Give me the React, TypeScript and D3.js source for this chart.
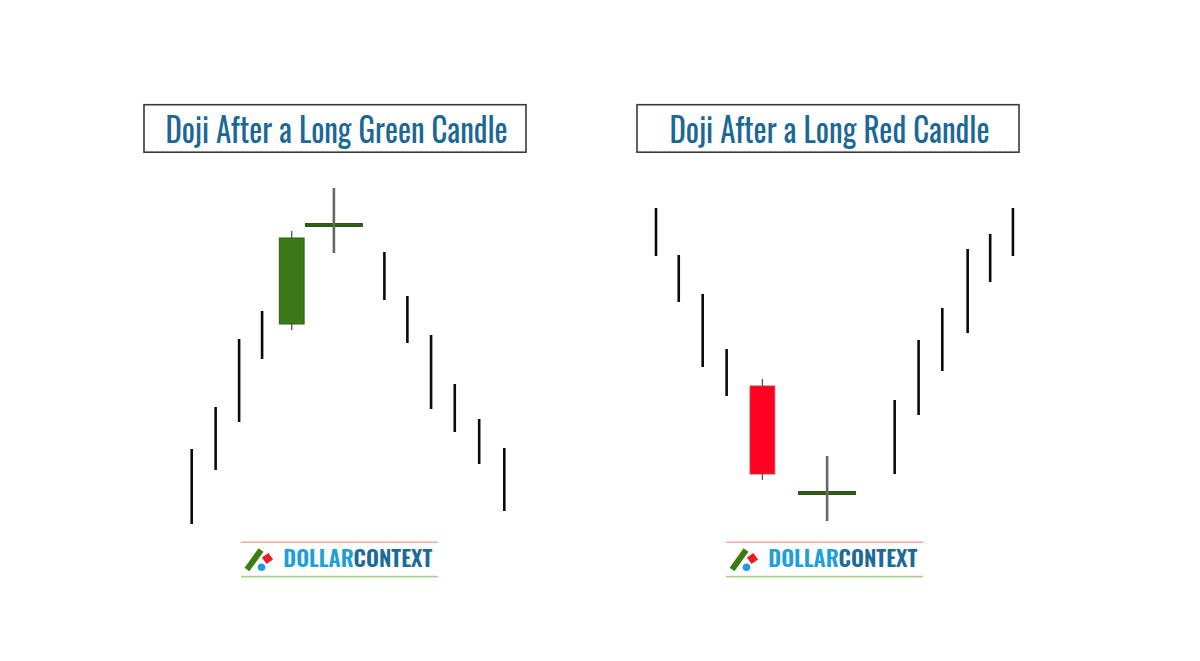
import React from "react";
import * as d3 from "d3";

// ---- Data (prices in arbitrary units, x in candle "slots") ----
const leftTitle = "Doji After a Long Green Candle";
const rightTitle = "Doji After a Long Red Candle";

const leftSlots = [0, 1.01, 2.0, 2.97, 4.22, 6.0, 8.13, 9.1, 10.1, 11.1, 12.13, 13.19];
const leftHigh = [81, 123, 191, 219, 299, 342, 278, 234, 195, 146, 111, 82];
const leftLow = [6, 60, 108, 171, 200, 277, 230, 187, 121, 98, 66, 19];
const leftOpen: (number | null)[] = [null, null, null, null, 206, 305, null, null, null, null, null, null];
const leftClose: (number | null)[] = [null, null, null, null, 292, 305, null, null, null, null, null, null];

const rightSlots = [0, 0.96, 1.97, 2.98, 4.49, 7.22, 10.07, 11.08, 12.08, 13.15, 14.1, 15.06];
const rightHigh = [322, 275, 236, 181, 151, 74, 130, 190, 222, 281, 296, 322];
const rightLow = [274, 228, 163, 134, 50, 9, 56, 115, 159, 197, 248, 274];
const rightOpen: (number | null)[] = [null, null, null, null, 144, 37, null, null, null, null, null, null];
const rightClose: (number | null)[] = [null, null, null, null, 56, 37, null, null, null, null, null, null];

const logoWords = ["DOLLAR", "CONTEXT"];

type Candle = { slot: number; high: number; low: number; open: number | null; close: number | null };

const build = (s: number[], h: number[], l: number[], o: (number | null)[], c: (number | null)[]): Candle[] =>
  s.map((slot, i) => ({ slot, high: h[i], low: l[i], open: o[i], close: c[i] }));

const leftData = build(leftSlots, leftHigh, leftLow, leftOpen, leftClose);
const rightData = build(rightSlots, rightHigh, rightLow, rightOpen, rightClose);

const yScale = d3.scaleLinear().domain([0, 350]).range([530, 180]);

const TITLE_FONT = "'Oswald', 'DejaVu Sans Condensed', 'Liberation Sans Narrow', sans-serif";

function Panel({ data, x0, title, titleLen, boxX, logoX }: { data: Candle[]; x0: number; title: string; titleLen: number; boxX: number; logoX: number }) {
  const unit = 23.7;
  const xScale = d3.scaleLinear().domain([0, 15]).range([x0, x0 + 15 * unit]);
  const boxW = 382;
  const boxY = 104.7;
  const boxH = 47.5;
  return (
    <g>
      <rect x={boxX} y={boxY} width={boxW} height={boxH} fill="#fff" stroke="#3a3a3a" strokeWidth={1.6} />
      <line x1={boxX + 2} x2={boxX + boxW - 2} y1={boxY + boxH - 2} y2={boxY + boxH - 2} stroke="#e4e4e4" strokeWidth={0.8} strokeDasharray="2,3" />
      <text
        x={boxX + boxW / 2 + 1.5}
        y={142.5}
        textAnchor="middle"
        fontFamily={TITLE_FONT}
        fontSize={34}
        fill="#1b6896"
        textLength={titleLen}
        lengthAdjust="spacingAndGlyphs"
      >
        {title}
      </text>
      {data.map((d, i) => {
        const cx = xScale(d.slot);
        if (d.open === null || d.close === null) {
          return <line key={i} x1={cx} x2={cx} y1={yScale(d.high)} y2={yScale(d.low)} stroke="#0a0a0a" strokeWidth={2.6} />;
        }
        const isDoji = d.open === d.close;
        if (isDoji) {
          const half = 28.5;
          const yb = yScale(d.open);
          return (
            <g key={i}>
              <rect x={cx - half} y={yb - 1.6} width={half * 2} height={3.2} fill="#2f5f12" stroke="#1f3f0a" strokeWidth={0.8} />
              <line x1={cx} x2={cx} y1={yScale(d.high)} y2={yScale(d.low)} stroke="#666" strokeWidth={2.6} />
            </g>
          );
        }
        const up = d.close > d.open;
        const top = yScale(Math.max(d.open, d.close));
        const bot = yScale(Math.min(d.open, d.close));
        const half = 12.4;
        return (
          <g key={i}>
            <line x1={cx} x2={cx} y1={yScale(d.high)} y2={yScale(d.low)} stroke="#555" strokeWidth={1.3} />
            <rect
              x={cx - half}
              y={top}
              width={half * 2}
              height={bot - top}
              fill={up ? "#3b7b17" : "#ff0022"}
              stroke={up ? "#2c5e10" : "#b34a4a"}
              strokeWidth={1}
            />
          </g>
        );
      })}
      {/* logo */}
      <g>
        <line x1={logoX} x2={logoX + 197} y1={542.3} y2={542.3} stroke="#f5a9a2" strokeWidth={1.5} />
        <line x1={logoX} x2={logoX + 197} y1={576.7} y2={576.7} stroke="#a9d18e" strokeWidth={1.8} />
        <line x1={logoX + 6} x2={logoX + 20} y1={569.5} y2={550} stroke="#3c7d12" strokeWidth={6} />
        <rect x={logoX + 22.5} y={554.5} width={8} height={8} fill="#ee1c25" transform={`rotate(-35 ${logoX + 26.5} ${558.5})`} />
        <circle cx={logoX + 20.5} cy={567.3} r={3.8} fill="#1e9be0" />
        <text x={logoX + 42.3} y={566.5} fontFamily={TITLE_FONT} fontWeight={600} fontSize={22} textLength={149} lengthAdjust="spacingAndGlyphs">
          <tspan fill="#1e9fd9">{logoWords[0]}</tspan>
          <tspan fill="#1b6a97">{logoWords[1]}</tspan>
        </text>
      </g>
    </g>
  );
}

export default function App() {
  return (
    <svg width={1200} height={661} style={{ position: "absolute", left: 0, top: 0, background: "#fff" }}>
      <rect width={1200} height={661} fill="#fff" />
      <Panel data={leftData} x0={191.7} title={leftTitle} titleLen={342} boxX={144} logoX={241} />
      <Panel data={rightData} x0={656} title={rightTitle} titleLen={320} boxX={637} logoX={726} />
    </svg>
  );
}
